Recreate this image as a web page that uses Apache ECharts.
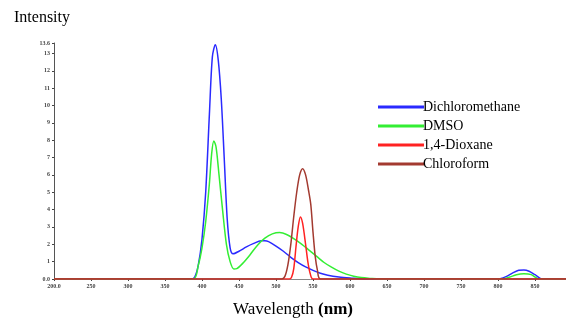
<!DOCTYPE html>
<html><head><meta charset="utf-8">
<script src="https://cdn.jsdelivr.net/npm/echarts@6/dist/echarts.min.js"></script>
<style>html,body{margin:0;padding:0;background:#fff}#c{width:566px;height:322px}</style>
</head><body><div id="c"></div>
<script>
const seriesNames = ['Dichloromethane', 'DMSO', '1,4-Dioxane', 'Chloroform'];
const xTicks = [200, 250, 300, 350, 400, 450, 500, 550, 600, 650, 700, 750, 800, 850, 900];

const dcmX = [200, 385, 390, 395, 400, 405, 410, 414, 418, 422, 426, 430, 434, 438, 442, 450, 460, 470, 480, 485, 490, 500, 510, 520, 530, 540, 550, 560, 570, 585, 600, 620, 800, 810, 820, 828, 835, 842, 850, 860, 900];
const dcmY = [0, 0, 0.1, 0.8, 2.3, 5, 9.5, 12.8, 13.5, 12.6, 10.4, 7, 3.5, 1.8, 1.45, 1.6, 1.85, 2.05, 2.2, 2.2, 2.15, 1.9, 1.6, 1.25, 0.95, 0.7, 0.5, 0.33, 0.22, 0.12, 0.06, 0, 0, 0.12, 0.35, 0.5, 0.52, 0.45, 0.25, 0, 0];

const dmsoX = [200, 388, 395, 400, 405, 410, 413, 416, 419, 423, 428, 433, 438, 443, 447, 455, 465, 475, 485, 495, 505, 515, 525, 535, 545, 555, 565, 575, 585, 595, 605, 615, 628, 640, 805, 815, 825, 835, 845, 855, 900];
const dmsoY = [0, 0, 0.8, 1.8, 3.3, 5.5, 7.2, 7.95, 7.6, 6.0, 3.9, 2.0, 1.0, 0.58, 0.6, 0.9, 1.4, 1.95, 2.35, 2.6, 2.68, 2.55, 2.3, 2.0, 1.65, 1.3, 0.95, 0.68, 0.45, 0.28, 0.16, 0.08, 0.03, 0, 0, 0.1, 0.25, 0.3, 0.25, 0, 0];

const dioxX = [200, 518, 521, 524, 527, 530, 533, 536, 540, 543, 546, 550, 900];
const dioxY = [0, 0, 0.1, 0.6, 1.86, 3.0, 3.58, 3.2, 2.0, 1.0, 0.35, 0, 0];

const chlX = [200, 508, 512, 516, 520, 524, 528, 532, 536, 540, 544, 547, 550, 553, 556, 560, 900];
const chlY = [0, 0, 0.15, 0.8, 2.0, 3.6, 5.0, 6.0, 6.36, 6.0, 5.1, 4.3, 2.7, 1.3, 0.5, 0, 0];

const colors = ['#2a2aff', '#33ee33', '#ff2222', '#a33a30'];
const xs = [dcmX, dmsoX, dioxX, chlX];
const ys = [dcmY, dmsoY, dioxY, chlY];

const chart = echarts.init(document.getElementById('c'), null, {renderer: 'canvas'});
const serif = '"Liberation Serif", "DejaVu Serif", serif';
chart.setOption({
  animation: false,
  backgroundColor: '#fff',
  grid: {left: 54, top: 43, width: 518, height: 236, containLabel: false, outerBoundsMode: 'none'},
  legend: {
    orient: 'vertical', left: 373, top: 95, itemGap: 5, itemWidth: 46, itemHeight: 3,
    icon: 'rect', data: seriesNames,
    textStyle: {fontFamily: serif, fontSize: 14, color: '#000', padding: [0, 0, 0, -6]}
  },
  xAxis: {
    type: 'value', min: 200, max: 900, interval: 50,
    axisLine: {lineStyle: {color: '#888', width: 1}},
    axisTick: {length: 2, lineStyle: {color: '#444'}},
    splitLine: {show: false},
    axisLabel: {fontFamily: serif, fontSize: 6, fontWeight: 'bold', color: '#444', margin: 4,
      formatter: v => v === 200 ? '200.0' : String(v)}
  },
  yAxis: {
    type: 'value', min: 0, max: 13.6, interval: 1,
    axisLine: {show: true, lineStyle: {color: '#555', width: 1}},
    axisTick: {show: true, length: 2, lineStyle: {color: '#444'}},
    splitLine: {show: false},
    axisLabel: {fontFamily: serif, fontSize: 6, fontWeight: 'bold', color: '#444', margin: 4,
      formatter: v => v === 0 ? '0.0' : (Math.abs(v - 13.6) < 1e-6 ? '13.6' : String(Math.round(v)))}
  },
  series: seriesNames.map((n, i) => ({
    name: n, type: 'line', smooth: 0.3, showSymbol: false, symbol: 'none',
    lineStyle: {color: colors[i], width: 1.5},
    itemStyle: {color: colors[i]},
    data: xs[i].map((x, j) => [x, ys[i][j]])
  })),
  graphic: [
    {type: 'text', left: 14, top: 10, style: {text: 'Intensity', font: '16px ' + serif, fill: '#000'}},
    {type: 'text', left: 233, top: 301, style: {
      text: 'Wavelength {b|(nm)}', font: '17px ' + serif, fill: '#000',
      rich: {b: {fontFamily: serif, fontSize: 17, fontWeight: 'bold', fill: '#000'}}}}
  ]
});
</script></body></html>
